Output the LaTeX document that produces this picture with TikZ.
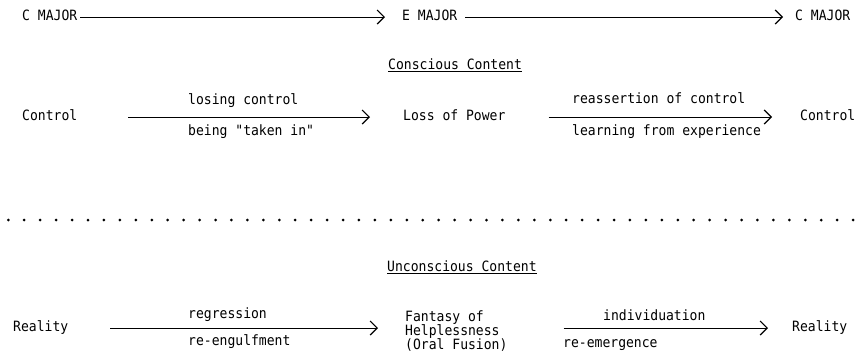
\documentclass[tikz,border=0pt]{standalone}
\usepackage{fontspec}
\newfontfamily\tw[FakeStretch=0.92]{DejaVu Sans Mono}
\usetikzlibrary{arrows.meta}
\begin{document}
\begin{tikzpicture}[x=1pt,y=-1pt,
  txt/.style={inner sep=0pt,anchor=west,font=\tw\fontsize{14.2}{14}\selectfont,text height=10pt,text depth=3pt},
  lbl/.style={txt},
  conn/.style={line width=1pt,-{Straight Barb[length=7pt,width=14pt,line width=1.2pt]}}]
\useasboundingbox[fill=white] (0,0) rectangle (860,360);
% row 1
\node[txt] (c1) at (22,17) {C MAJOR};
\node[txt] (e1) at (402,17) {E MAJOR};
\node[txt] (c2) at (795,17) {C MAJOR};
\draw[conn,shorten <=3pt,shorten >=17pt] (c1.east) -- (e1.west);
\draw[conn,shorten <=8pt,shorten >=12pt] (e1.east) -- (c2.west);
% conscious
\node[txt] (cc) at (388,66) {\underline{Conscious Content}};
\node[txt] (ctl1) at (22,117) {Control};
\node[txt] (lop) at (403,117) {Loss of Power};
\node[txt] (ctl2) at (800,117) {Control};
\draw[conn,shorten <=51pt,shorten >=33pt] (ctl1.east) -- (lop.west);
\draw[conn,shorten <=43pt,shorten >=28pt] (lop.east) -- (ctl2.west);
\node[lbl] (l1) at (188,101) {losing control};
\node[lbl] (l2) at (188,132) {being "taken in"};
\node[lbl] (l3) at (572,100) {reassertion of control};
\node[lbl] (l4) at (572,132) {learning from experience};
% dots
\foreach \i in {0,...,53} \fill (8.3+15.94*\i,220) circle (1.5pt);
% unconscious
\node[txt] (uc) at (387,268) {\underline{Unconscious Content}};
\node[txt] (r1) at (13,328) {Reality};
\node[txt,align=left,text height=,text depth=] (fh) at (405,331) {Fantasy of\\Helplessness\\(Oral Fusion)};
\node[txt] (r2) at (792,328) {Reality};
\draw[conn,shorten <=42pt,shorten >=27pt] (r1.east) -- (r1.east -| fh.west);
\draw[conn,shorten <=56pt,shorten >=24pt] (r2.west -| fh.east) -- (r2.west);
\node[lbl] (l5) at (188,315) {regression};
\node[lbl] (l6) at (188,342) {re-engulfment};
\node[lbl] (l7) at (603,317) {individuation};
\node[lbl] (l8) at (563,344) {re-emergence};
\end{tikzpicture}
\end{document}
